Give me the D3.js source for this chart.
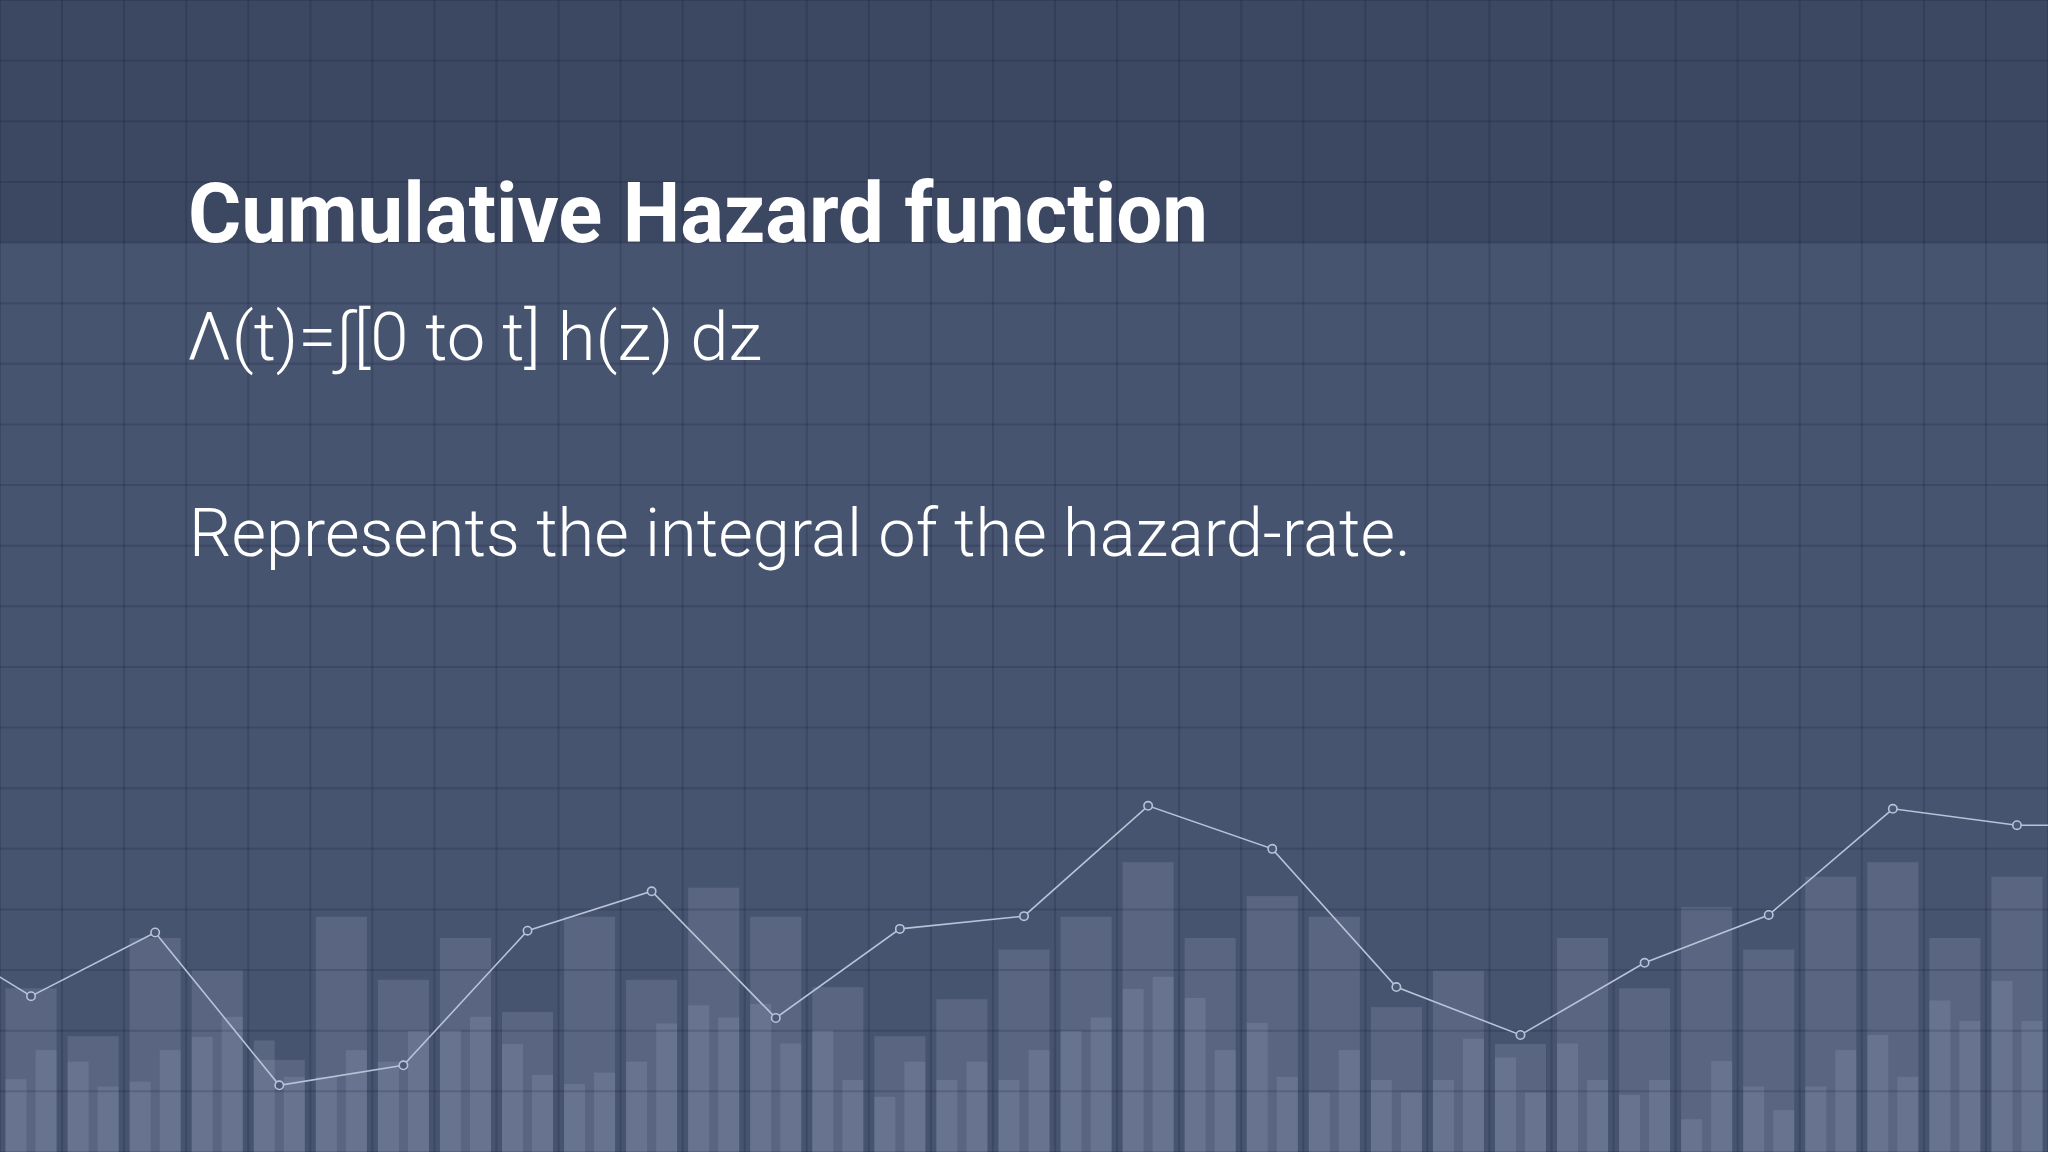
<!DOCTYPE html>
<html>
<head>
<meta charset="utf-8">
<script src="https://cdn.jsdelivr.net/npm/d3@7"></script>
<style>
  html, body { margin: 0; padding: 0; background: #47546f; overflow: hidden; }
</style>
</head>
<body>
<div id="chart"></div>
<script>
// Texts
const title = "Cumulative Hazard function";
const formula = "Λ(t)=∫[0 to t] h(z) dz";
const caption = "Represents the integral of the hazard-rate.";

// Background chart data (one grid row = 10 units)
const cells = d3.range(33);
const wideBars = [27.0, 19.1, 35.3, 30.0, 15.2, 38.8, 28.4, 35.3, 23.1, 38.8, 28.4, 43.6, 38.8, 27.2, 19.1, 25.2, 33.4,
                  38.8, 47.8, 35.3, 42.2, 38.8, 23.9, 29.9, 17.8, 35.3, 27.0, 40.4, 33.4, 45.4, 47.8, 35.3, 45.4];
const leftBars = [12.0, 14.9, 11.6, 19.0, 18.4, 12.4, 14.9, 20.1, 17.8, 11.2, 14.9, 24.2, 24.4, 20.1, 9.1, 11.9, 11.9,
                  20.0, 26.9, 25.4, 21.3, 9.8, 11.9, 11.9, 15.6, 17.9, 9.4, 5.4, 10.8, 10.8, 19.3, 25.0, 28.2];
const rightBars = [16.8, 10.8, 16.8, 22.3, 12.4, 16.8, 20.0, 22.3, 12.7, 13.1, 21.2, 22.2, 17.9, 11.9, 14.9, 14.9, 16.8,
                   22.2, 28.9, 16.8, 12.4, 16.8, 9.8, 18.7, 9.8, 11.9, 11.9, 15.0, 6.9, 16.8, 12.4, 21.6, 21.6];
const lineCells = [-2, 0, 2, 4, 6, 8, 10, 12, 14, 16, 18, 20, 22, 24, 26, 28, 30, 32, 34];
const lineValues = [38.3, 25.7, 36.2, 11.0, 14.3, 36.5, 43.0, 22.1, 36.8, 38.9, 57.1, 50.0, 27.2, 19.3, 31.2, 39.1, 56.6, 53.9, 53.9];
const rows = 19;
const bandRows = 4;

// Dimensions
const width = 2048;
const height = 1152;

// Scales
const x = d3.scaleBand(cells, [0, width]).paddingInner(0.177).paddingOuter(0.0886);
const xSub = d3.scaleBand(["left", "right"], [0, x.bandwidth()]).paddingInner(0.3);
const xc = d3.scaleLinear([0, 32], [x(0) + x.bandwidth() / 2, x(32) + x.bandwidth() / 2]);
const y = d3.scaleLinear([0, rows * 10], [height, 0]);

const svg = d3.create("svg")
    .attr("viewBox", [0, 0, width, height])
    .attr("width", width)
    .attr("height", height)
    .style("display", "block");

// Background and top band
svg.append("rect")
    .attr("width", width)
    .attr("height", height)
    .attr("fill", "#47546f");

svg.append("rect")
    .attr("width", width)
    .attr("height", y((rows - bandRows) * 10))
    .attr("fill", "#3c4762");

// Wide bars
svg.append("g")
    .attr("fill", "#b4c0dc")
    .attr("fill-opacity", 0.17)
    .selectAll("rect")
    .data(cells)
    .join("rect")
      .attr("x", i => x(i))
      .attr("y", i => y(wideBars[i]))
      .attr("width", x.bandwidth())
      .attr("height", i => y(0) - y(wideBars[i]));

// Narrow bars
const narrow = cells.flatMap(i => [
  {cell: i, side: "left", value: leftBars[i]},
  {cell: i, side: "right", value: rightBars[i]}
]);

svg.append("g")
    .attr("fill", "#b4c0dc")
    .attr("fill-opacity", 0.165)
    .selectAll("rect")
    .data(narrow)
    .join("rect")
      .attr("x", d => x(d.cell) + xSub(d.side))
      .attr("y", d => y(d.value))
      .attr("width", xSub.bandwidth())
      .attr("height", d => y(0) - y(d.value));

// Grid
const grid = svg.append("g")
    .attr("stroke", "rgb(12,20,40)")
    .attr("stroke-opacity", 0.17)
    .attr("stroke-width", 2);

grid.selectAll(".v")
    .data(d3.range(cells.length + 1))
    .join("line")
      .attr("class", "v")
      .attr("x1", i => i * x.step())
      .attr("x2", i => i * x.step())
      .attr("y1", 0)
      .attr("y2", height);

grid.selectAll(".h")
    .data(d3.range(rows + 1))
    .join("line")
      .attr("class", "h")
      .attr("x1", 0)
      .attr("x2", width)
      .attr("y1", k => y(k * 10))
      .attr("y2", k => y(k * 10));

// Line with markers
const points = lineCells.map((c, i) => [c, lineValues[i]]);

const line = d3.line()
    .x(([c]) => xc(c))
    .y(([, v]) => y(v));

svg.append("path")
    .datum(points)
    .attr("fill", "none")
    .attr("stroke", "#b9c3d7")
    .attr("stroke-width", 1.6)
    .attr("d", line);

svg.append("g")
    .attr("fill", "#4b5876")
    .attr("stroke", "#b9c3d7")
    .attr("stroke-width", 1.6)
    .selectAll("circle")
    .data(points)
    .join("circle")
      .attr("cx", ([c]) => xc(c))
      .attr("cy", ([, v]) => y(v))
      .attr("r", 4.2);

// Texts
svg.append("text")
    .attr("x", 188)
    .attr("y", 242)
    .attr("fill", "#ffffff")
    .attr("font-family", "Roboto, 'Open Sans', sans-serif")
    .attr("font-weight", 700)
    .attr("font-size", 84)
    .attr("textLength", 1020)
    .attr("lengthAdjust", "spacingAndGlyphs")
    .text(title);

svg.append("text")
    .attr("x", 187)
    .attr("y", 360)
    .attr("fill", "#ffffff")
    .attr("font-family", "Roboto, 'DejaVu Sans', sans-serif")
    .attr("font-weight", 300)
    .attr("font-size", 67)
    .attr("textLength", 575)
    .attr("lengthAdjust", "spacingAndGlyphs")
    .text(formula);

svg.append("text")
    .attr("x", 189)
    .attr("y", 556)
    .attr("fill", "#ffffff")
    .attr("font-family", "Roboto, 'Open Sans', sans-serif")
    .attr("font-weight", 300)
    .attr("font-size", 66)
    .attr("textLength", 1222)
    .attr("lengthAdjust", "spacingAndGlyphs")
    .text(caption);

document.getElementById("chart").appendChild(svg.node());
</script>
</body>
</html>
